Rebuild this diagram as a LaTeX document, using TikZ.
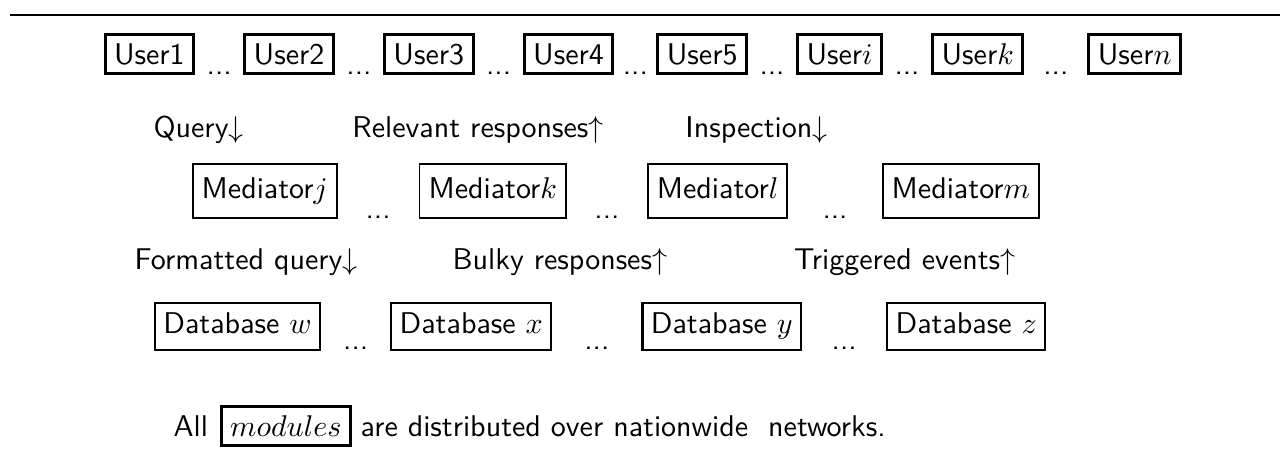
\documentclass[tikz,border=0pt]{standalone}
\usetikzlibrary{positioning}
\renewcommand{\familydefault}{\sfdefault}

\begin{document}
\begin{tikzpicture}[x=1pt, y=1pt, node distance=16pt]
    \tikzstyle{user} = [rectangle, draw, line width=1pt, inner xsep=3pt, inner ysep=3pt, text height=7pt, text depth=0pt]
    \tikzstyle{mediator} = [rectangle, draw, line width=0.6pt, inner xsep=3pt, inner ysep=4.6pt, text height=7pt, text depth=2pt]
    \tikzstyle{database} = [rectangle, draw, line width=0.7pt, inner xsep=2.8pt, inner ysep=3.3pt, text height=7pt, text depth=2pt]
    \tikzstyle{flow} = [anchor=base west, inner sep=0pt]
    \tikzstyle{gap} = [anchor=south, inner sep=0pt]

    \useasboundingbox (0,0) rectangle (426.7,-152.3);

    % rule on top
    \coordinate (ruleL) at (3.3,-5);
    \coordinate (ruleR) at (426.7,-5);
    \draw [line width=0.7pt] (ruleL) -- (ruleR);

    % users
    \node (u1) [user] at (49.8,-18) {User1};
    \node (u2) [user, right=of u1] {User2};
    \node (u3) [user, right=of u2] {User3};
    \node (u4) [user, right=of u3] {User4};
    \node (u5) [user, right=14pt of u4] {User5};
    \node (ui) [user, right=of u5] {User$i$};
    \node (uk) [user, right=of ui] {User$k$};
    \node (un) [user, right=21pt of uk] {User$n$};
    \path (u1.south east) -- node (g1) [gap] {...} (u2.south west);
    \path (u2.south east) -- node (g2) [gap] {...} (u3.south west);
    \path (u3.south east) -- node (g3) [gap] {...} (u4.south west);
    \path (u4.south east) -- node (g4) [gap] {...} (u5.south west);
    \path (u5.south east) -- node (g5) [gap] {...} (ui.south west);
    \path (ui.south east) -- node (g6) [gap] {...} (uk.south west);
    \path (uk.south east) -- node (g7) [gap] {...} (un.south west);

    \node (query) [flow] at (51,-45.7) {Query$\downarrow$};
    \node (relevant) [flow] at (117.3,-45.7) {Relevant responses$\uparrow$};
    \node (inspection) [flow] at (228.3,-45.7) {Inspection$\downarrow$};

    % mediators
    \node (mj) [mediator] at (88.25,-63.7) {Mediator$j$};
    \node (mk) [mediator, right=27pt of mj] {Mediator$k$};
    \node (ml) [mediator, right=26.7pt of mk] {Mediator$l$};
    \node (mm) [mediator, right=31.2pt of ml] {Mediator$m$};
    \path (mj.south east) -- node (g8) [gap] {...} (mk.south west);
    \path (mk.south east) -- node (g9) [gap] {...} (ml.south west);
    \path (ml.south east) -- node (g10) [gap] {...} (mm.south west);

    \node (formatted) [flow] at (44.7,-90) {Formatted query$\downarrow$};
    \node (bulky) [flow] at (150.7,-90) {Bulky responses$\uparrow$};
    \node (triggered) [flow] at (264.5,-90) {Triggered events$\uparrow$};

    % databases
    \node (dw) [database] at (79.2,-108.8) {Database $w$};
    \node (dx) [database, right=23pt of dw] {Database $x$};
    \node (dy) [database, right=29.7pt of dx] {Database $y$};
    \node (dz) [database, right=28pt of dy] {Database $z$};
    \path (dw.south east) -- node (g11) [gap] {...} (dx.south west);
    \path (dx.south east) -- node (g12) [gap] {...} (dy.south west);
    \path (dy.south east) -- node (g13) [gap] {...} (dz.south west);

    % note at the bottom
    \node (all) [flow] at (57.7,-145.6) {All};
    \node (modules) [rectangle, draw, line width=1pt, inner sep=3pt, base right=3.7pt of all] {$modules$};
    \node (rest) [flow, base right=2.7pt of modules] {are distributed over nationwide\ \ networks.};
\end{tikzpicture}
\end{document}
